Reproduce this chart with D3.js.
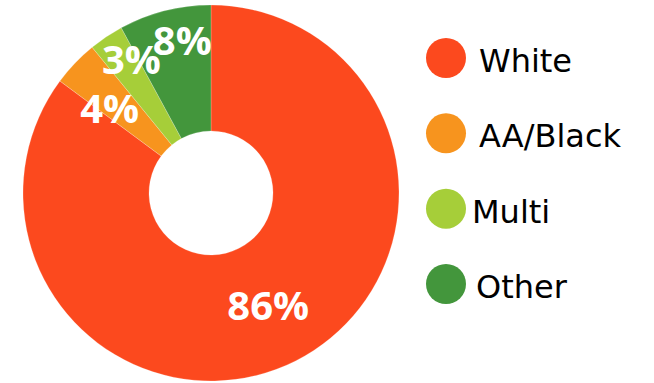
<!DOCTYPE html>
<html>
<head>
<meta charset="utf-8">
<script src="https://cdn.jsdelivr.net/npm/d3@7"></script>
<style>
  html, body { margin: 0; padding: 0; background: #fff; }
  svg { display: block; }
</style>
</head>
<body>
<svg id="chart" width="654" height="383"></svg>
<script>
// Share of each group, in percent
const categories = ["White", "AA/Black", "Multi", "Other"];
const values = [86, 4, 3, 8];
const labels = ["86%", "4%", "3%", "8%"];
const colors = ["#FC491E", "#F7941E", "#A6CE39", "#43963C"];

const svg = d3.select("#chart");
const cx = 211, cy = 193;
const outerR = 188, innerR = 62;

const pie = d3.pie().sort(null).value(d => d.value).startAngle(0).endAngle(2 * Math.PI);
const rows = categories.map((c, i) => ({ name: c, value: values[i], label: labels[i], color: colors[i] }));
const arcs = pie(rows);

const arc = d3.arc().innerRadius(innerR).outerRadius(outerR);

const g = svg.append("g").attr("transform", `translate(${cx},${cy})`);

g.selectAll("path.slice")
  .data(arcs)
  .enter().append("path")
  .attr("class", "slice")
  .attr("d", arc)
  .attr("fill", d => d.data.color)
  .attr("stroke", "rgba(255,255,255,0.35)")
  .attr("stroke-width", 0.6);

// Labels sit on the ring's centroid; the narrow slices push theirs outward
const nudge = {
  "White": [1, 1],
  "AA/Black": [-11, 2],
  "Multi": [-10, -30],
  "Other": [2, -31]
};

g.selectAll("text.pct")
  .data(arcs)
  .enter().append("text")
  .attr("class", "pct")
  .attr("x", d => arc.centroid(d)[0] + nudge[d.data.name][0])
  .attr("y", d => arc.centroid(d)[1] + nudge[d.data.name][1])
  .attr("dy", "0.36em")
  .attr("text-anchor", "middle")
  .attr("fill", "#fff")
  .attr("font-family", "'Open Sans', sans-serif")
  .attr("font-weight", "bold")
  .attr("font-size", "40px")
  .text(d => d.data.label);

// Legend
const legendY = d3.scalePoint().domain(categories).range([58, 284]);
const textX = { "White": 479, "AA/Black": 479, "Multi": 472, "Other": 476 };

const lg = svg.append("g");
const items = lg.selectAll("g.item")
  .data(rows)
  .enter().append("g")
  .attr("class", "item");

items.append("circle")
  .attr("cx", 446)
  .attr("cy", d => legendY(d.name))
  .attr("r", 20)
  .attr("fill", d => d.color);

items.append("text")
  .attr("x", d => textX[d.name])
  .attr("y", d => legendY(d.name) + 14)
  .attr("font-family", "'DejaVu Sans', sans-serif")
  .attr("font-size", "32px")
  .attr("fill", "#000")
  .text(d => d.name);
</script>
</body>
</html>
